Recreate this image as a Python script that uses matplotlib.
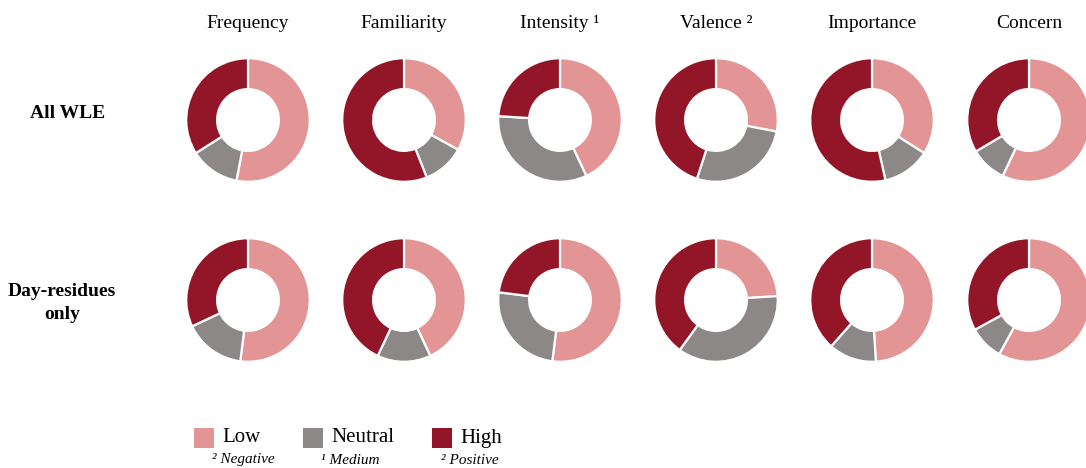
import matplotlib
matplotlib.use('Agg')
import matplotlib.pyplot as plt
import matplotlib.patches as mpatches

plt.rcParams.update({'font.family': 'Liberation Serif'})

LOW = '#E39494'; NEUTRAL = '#8C8887'; HIGH = '#921627'

dimensions = ['Frequency', 'Familiarity', 'Intensity \u00b9', 'Valence \u00b2', 'Importance', 'Concern']
groups = ['All WLE', 'Day-residues\nonly']

# shares (%) of Low / Neutral / High per dimension
all_low     = [53, 33, 43, 28, 34, 57]
all_neutral = [13, 11, 33, 27, 12.5, 9.5]
all_high    = [34, 56, 24, 45, 53.5, 33.5]

day_low     = [52, 43, 52, 24, 49, 58]
day_neutral = [16, 14, 25, 36, 12.5, 9]
day_high    = [32, 43, 23, 40, 38.5, 33]

rows = [(all_low, all_neutral, all_high), (day_low, day_neutral, day_high)]

W, H = 1086, 468
fig = plt.figure(figsize=(W / 100, H / 100), dpi=100)
fig.patch.set_facecolor('white')

col_x = [248, 404, 560, 716, 872, 1029]
row_y = [120, 300]
R = 63  # outer radius in px

for r, (lo, ne, hi) in enumerate(rows):
    for c in range(len(dimensions)):
        cx, cy = col_x[c], row_y[r]
        ax = fig.add_axes([(cx - R) / W, 1 - (cy + R) / H, 2 * R / W, 2 * R / H])
        ax.pie([lo[c], ne[c], hi[c]], colors=[LOW, NEUTRAL, HIGH],
               startangle=90, counterclock=False, radius=1.0,
               wedgeprops=dict(width=0.5, edgecolor='white', linewidth=1.6))
        ax.set_xlim(-1.02, 1.02); ax.set_ylim(-1.02, 1.02)
        ax.set_aspect('equal')
        ax.axis('off')

for c, name in enumerate(dimensions):
    fig.text(col_x[c] / W, 1 - 24 / H, name, ha='center', va='center', fontsize=14)

fig.text(68 / W, 1 - 113 / H, groups[0], ha='center', va='center',
         fontsize=14, fontweight='bold')
fig.text(62 / W, 1 - 303 / H, groups[1], ha='center', va='center',
         fontsize=14, fontweight='bold', linespacing=1.45)

# legend
legend_items = [('Low', LOW, 194, '\u00b2 Negative', 243),
                ('Neutral', NEUTRAL, 303, '\u00b9 Medium', 350),
                ('High', HIGH, 432, '\u00b2 Positive', 470)]
for label, col, x0, sub, sx in legend_items:
    fig.patches.append(mpatches.Rectangle((x0 / W, 1 - 448 / H), 20 / W, 20 / H,
                                          transform=fig.transFigure, facecolor=col,
                                          edgecolor='none'))
    fig.text((x0 + 28) / W, 1 - 438 / H, label, ha='left', va='center', fontsize=15)
    fig.text(sx / W, 1 - 460 / H, sub, ha='center', va='center', fontsize=11,
             style='italic')

fig.savefig('out.png', dpi=100, facecolor='white')
plt.close(fig)
